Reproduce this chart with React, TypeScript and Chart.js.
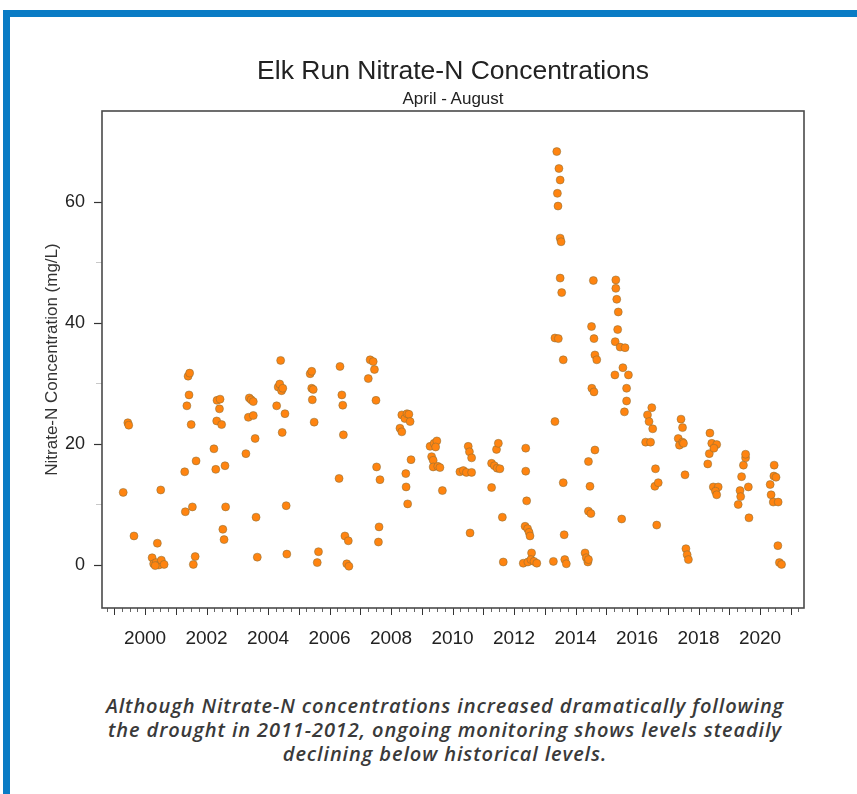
import React, { useEffect, useRef } from 'react';
import { Chart, registerables } from 'chart.js';

Chart.register(...registerables);

// Sample dates (decimal years) and Nitrate-N concentrations (mg/L)
const sampleYears: number[] = [
  1999.29, 1999.44, 1999.47, 1999.64,
  2000.40, 2000.51, 2000.23, 2000.28, 2000.36, 2000.45, 2000.53, 2000.62, 2000.33,
  2001.29, 2001.31, 2001.36, 2001.40, 2001.45, 2001.43, 2001.50, 2001.54, 2001.57, 2001.63, 2001.66,
  2002.24, 2002.30, 2002.33, 2002.34, 2002.42, 2002.44, 2002.49, 2002.53, 2002.57, 2002.60, 2002.62,
  2003.28, 2003.36, 2003.39, 2003.45, 2003.52, 2003.52, 2003.58, 2003.61, 2003.65,
  2004.28, 2004.33, 2004.38, 2004.41, 2004.44, 2004.48, 2004.46, 2004.55, 2004.59, 2004.61,
  2005.37, 2005.42, 2005.42, 2005.47, 2005.44, 2005.50, 2005.60, 2005.64,
  2006.31, 2006.34, 2006.40, 2006.43, 2006.45, 2006.50, 2006.61, 2006.56, 2006.63,
  2007.26, 2007.32, 2007.42, 2007.46, 2007.51, 2007.53, 2007.59, 2007.61, 2007.64,
  2008.29, 2008.35, 2008.35, 2008.45, 2008.52, 2008.58, 2008.62, 2008.48, 2008.49, 2008.54, 2008.65,
  2009.27, 2009.32, 2009.37, 2009.37, 2009.40, 2009.49, 2009.45, 2009.52, 2009.59, 2009.67,
  2010.24, 2010.35, 2010.45, 2010.51, 2010.55, 2010.62, 2010.62, 2010.57,
  2011.27, 2011.27, 2011.36, 2011.43, 2011.49, 2011.45, 2011.54, 2011.62, 2011.65,
  2012.38, 2012.38, 2012.41, 2012.36, 2012.44, 2012.49, 2012.52, 2012.57, 2012.30, 2012.45, 2012.55, 2012.65, 2012.74,
  2013.28, 2013.33, 2013.33, 2013.44, 2013.39, 2013.46, 2013.50, 2013.41, 2013.43, 2013.50, 2013.53, 2013.50, 2013.55, 2013.60, 2013.60, 2013.63, 2013.65, 2013.70,
  2014.31, 2014.35, 2014.40, 2014.42, 2014.42, 2014.47, 2014.42, 2014.50, 2014.52, 2014.53, 2014.58, 2014.60, 2014.60, 2014.63, 2014.69, 2014.63,
  2015.28, 2015.29, 2015.31, 2015.31, 2015.34, 2015.39, 2015.37, 2015.45, 2015.50, 2015.54, 2015.59, 2015.61, 2015.66, 2015.66, 2015.72,
  2016.28, 2016.34, 2016.39, 2016.44, 2016.48, 2016.51, 2016.60, 2016.58, 2016.69, 2016.64,
  2017.34, 2017.38, 2017.43, 2017.48, 2017.48, 2017.51, 2017.56, 2017.59, 2017.63, 2017.67,
  2018.30, 2018.35, 2018.37, 2018.43, 2018.59, 2018.50, 2018.48, 2018.64, 2018.55, 2018.59,
  2019.29, 2019.35, 2019.37, 2019.40, 2019.46, 2019.53, 2019.53, 2019.62, 2019.64,
  2020.33, 2020.36, 2020.43, 2020.45, 2020.46, 2020.52, 2020.59, 2020.58, 2020.63, 2020.70,
];

const nitrateN: number[] = [
  12.0, 23.5, 23.1, 4.8,
  3.6, 12.4, 1.2, 0.2, 0.4, 0.0, 0.8, 0.1, -0.1,
  15.4, 8.8, 26.3, 31.2, 31.7, 28.1, 23.2, 9.6, 0.1, 1.4, 17.2,
  19.2, 15.8, 23.8, 27.2, 25.8, 27.4, 23.2, 5.9, 4.2, 16.4, 9.6,
  18.4, 24.4, 27.6, 27.3, 27.0, 24.7, 20.9, 7.9, 1.3,
  26.3, 29.4, 29.9, 33.8, 28.8, 29.2, 21.9, 25.0, 9.8, 1.8,
  31.6, 32.0, 29.2, 29.0, 27.3, 23.6, 0.4, 2.2,
  14.3, 32.8, 28.1, 26.4, 21.5, 4.8, 4.0, 0.2, -0.2,
  30.8, 33.9, 33.6, 32.3, 27.2, 16.2, 3.8, 6.3, 14.1,
  22.6, 22.0, 24.8, 24.2, 25.0, 24.9, 23.7, 15.1, 12.9, 10.1, 17.4,
  19.6, 17.9, 17.3, 16.2, 20.1, 20.5, 19.5, 16.3, 16.1, 12.3,
  15.4, 15.6, 15.3, 19.6, 18.7, 17.7, 15.3, 5.3,
  12.8, 16.8, 16.4, 19.1, 20.1, 16.0, 15.9, 7.9, 0.5,
  19.3, 15.5, 10.6, 6.4, 6.0, 5.4, 4.8, 2.0, 0.3, 0.5, 0.9, 0.6, 0.3,
  0.6, 23.7, 37.5, 37.4, 68.3, 65.5, 63.6, 61.4, 59.3, 54.0, 53.4, 47.4, 45.0, 33.9, 13.6, 5.0, 0.9, 0.2,
  2.0, 1.2, 0.5, 0.9, 17.1, 13.0, 8.9, 8.5, 39.4, 29.2, 47.0, 37.4, 28.6, 34.7, 33.9, 19.0,
  31.4, 36.9, 47.1, 45.7, 43.9, 41.8, 38.9, 36.0, 7.6, 32.6, 25.3, 35.9, 29.2, 27.1, 31.4,
  20.3, 24.8, 23.7, 20.3, 26.0, 22.5, 15.9, 13.0, 13.6, 6.6,
  20.9, 19.8, 24.1, 22.7, 20.3, 20.1, 14.9, 2.7, 1.7, 0.9,
  16.7, 18.4, 21.8, 20.1, 19.9, 19.3, 12.9, 12.9, 12.2, 11.6,
  10.0, 12.3, 11.3, 14.6, 16.5, 17.7, 18.3, 12.9, 7.8,
  13.3, 11.6, 10.4, 14.7, 16.5, 14.5, 10.4, 3.2, 0.4, 0.1,
];

const xLabelYears: number[] = [2000, 2002, 2004, 2006, 2008, 2010, 2012, 2014, 2016, 2018, 2020];
const yMajorTicks: number[] = [0, 20, 40, 60];
const yMinorTicks: number[] = [10, 30, 50];

const chartTitle = 'Elk Run Nitrate-N Concentrations';
const chartSubtitle = 'April - August';
const yAxisTitle = 'Nitrate-N Concentration (mg/L)';
const captionLines: string[] = [
  'Although Nitrate-N concentrations increased dramatically following',
  'the drought in 2011-2012, ongoing monitoring shows levels steadily',
  'declining below historical levels.',
];

const FONT = "'Liberation Sans', Arial, Helvetica, sans-serif";

const framePlugin = {
  id: 'frameTicks',
  afterDraw(chart: any) {
    const { ctx, chartArea: a, scales } = chart;
    const x = scales.x;
    const y = scales.y;
    ctx.save();
    // x ticks: yearly (longer) and quarterly (short)
    for (let q = Math.ceil(x.min * 4); q <= Math.floor(x.max * 4); q++) {
      const v = q / 4;
      const px = Math.round(x.getPixelForValue(v)) + 0.5;
      const isYear = q % 4 === 0;
      ctx.strokeStyle = isYear ? '#333' : '#666';
      ctx.lineWidth = 1;
      ctx.beginPath();
      ctx.moveTo(px, a.bottom);
      ctx.lineTo(px, a.bottom + (isYear ? 7 : 4));
      ctx.stroke();
    }
    // y ticks
    yMajorTicks.forEach((v) => {
      const py = Math.round(y.getPixelForValue(v)) + 0.5;
      ctx.strokeStyle = '#333';
      ctx.lineWidth = 1.2;
      ctx.beginPath();
      ctx.moveTo(a.left - 8, py);
      ctx.lineTo(a.left, py);
      ctx.stroke();
    });
    yMinorTicks.forEach((v) => {
      const py = Math.round(y.getPixelForValue(v)) + 0.5;
      ctx.strokeStyle = '#c8c8c8';
      ctx.lineWidth = 1;
      ctx.beginPath();
      ctx.moveTo(a.left - 6, py);
      ctx.lineTo(a.left, py);
      ctx.stroke();
    });
    // plot box
    ctx.strokeStyle = '#4a4a4a';
    ctx.lineWidth = 1.6;
    ctx.strokeRect(a.left, a.top, a.right - a.left, a.bottom - a.top);
    ctx.restore();
  },
};

export default function App() {
  const canvasRef = useRef<HTMLCanvasElement | null>(null);

  useEffect(() => {
    if (!canvasRef.current) return;
    const points = sampleYears.map((yr, i) => ({ x: yr, y: nitrateN[i] }));
    const chart = new Chart(canvasRef.current, {
      type: 'scatter',
      data: {
        datasets: [
          {
            data: points,
            pointRadius: 4,
            pointHoverRadius: 4,
            backgroundColor: '#ff8410',
            borderColor: 'rgba(130,110,60,0.5)',
            borderWidth: 1,
          },
        ],
      },
      options: {
        responsive: false,
        animation: false,
        devicePixelRatio: 1,
        layout: { padding: { left: 0, right: 53, top: 111, bottom: 0 } },
        plugins: {
          legend: { display: false },
          tooltip: { enabled: false },
          title: { display: false },
        },
        scales: {
          x: {
            type: 'linear',
            min: 1998.6,
            max: 2021.43,
            afterBuildTicks: (scale: any) => {
              scale.ticks = xLabelYears.map((v) => ({ value: v }));
            },
            afterFit: (scale: any) => {
              scale.height = 52;
            },
            ticks: {
              autoSkip: false,
              maxRotation: 0,
              padding: 19,
              color: '#222',
              font: { family: FONT, size: 19 },
              callback: (v: any) => String(v),
            },
            grid: { display: false, drawTicks: false },
            border: { display: false },
          },
          y: {
            type: 'linear',
            min: -7.1,
            max: 75,
            afterBuildTicks: (scale: any) => {
              scale.ticks = yMajorTicks.map((v) => ({ value: v }));
            },
            afterFit: (scale: any) => {
              scale.width = 102;
            },
            ticks: {
              padding: 17,
              color: '#222',
              font: { family: FONT, size: 18 },
              callback: (v: any) => String(v),
            },
            grid: { display: false, drawTicks: false },
            border: { display: false },
            title: {
              display: true,
              text: yAxisTitle,
              color: '#333',
              font: { family: FONT, size: 17 },
              padding: { top: 42, bottom: 0 },
            },
          },
        },
      },
      plugins: [framePlugin],
    });
    return () => chart.destroy();
  }, []);

  return (
    <div style={{ position: 'absolute', left: 0, top: 0, width: 857, height: 794, background: '#fff', overflow: 'hidden' }}>
      <div style={{ position: 'absolute', left: 3, top: 10, width: 854, height: 7, background: '#0a7cc5' }} />
      <div style={{ position: 'absolute', left: 3, top: 10, width: 7, height: 784, background: '#0a7cc5' }} />
      <canvas
        ref={canvasRef}
        width={857}
        height={660}
        style={{ position: 'absolute', left: 0, top: 0, width: 857, height: 660 }}
      />
      <div
        style={{
          position: 'absolute', left: 102, top: 55, width: 702, textAlign: 'center',
          fontFamily: FONT, fontSize: 26.5, lineHeight: '30px', color: '#222', whiteSpace: 'nowrap',
        }}
      >
        {chartTitle}
      </div>
      <div
        style={{
          position: 'absolute', left: 102, top: 89, width: 702, textAlign: 'center',
          fontFamily: FONT, fontSize: 17, lineHeight: '20px', color: '#222', whiteSpace: 'nowrap',
        }}
      >
        {chartSubtitle}
      </div>
      <div
        style={{
          position: 'absolute', left: 40, top: 694, width: 810, textAlign: 'center',
          fontFamily: "'Open Sans', sans-serif", fontStyle: 'italic', fontWeight: 600,
          fontSize: 20, letterSpacing: '0.9px', lineHeight: '24px', color: '#3a3a3a', whiteSpace: 'nowrap',
        }}
      >
        {captionLines.map((l, i) => (
          <div key={i}>{l}</div>
        ))}
      </div>
    </div>
  );
}
